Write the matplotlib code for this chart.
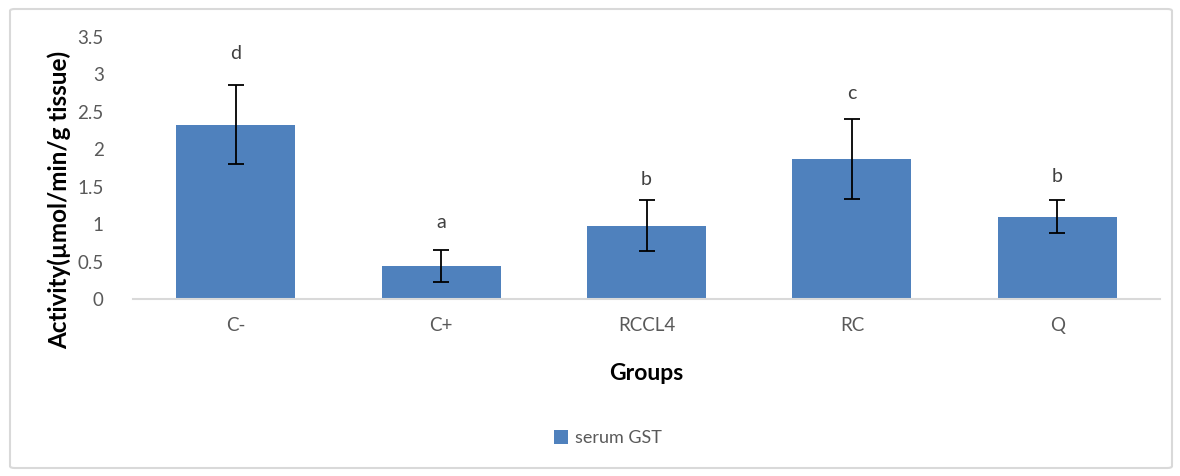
import matplotlib
matplotlib.use("Agg")
import matplotlib.pyplot as plt
from matplotlib.patches import FancyBboxPatch

plt.rcParams['font.family'] = ['Lato', 'DejaVu Sans']

groups = ['C-', 'C+', 'RCCL4', 'RC', 'Q']
gst = [2.33, 0.44, 0.98, 1.87, 1.10]
gst_err = [0.53, 0.21, 0.34, 0.53, 0.22]
letters = ['d', 'a', 'b', 'c', 'b']
letter_y = [3.28, 1.02, 1.60, 2.75, 1.63]

fig = plt.figure(figsize=(11.8, 4.76), dpi=100)
ax = fig.add_axes([133/1180, 1 - 299/476, 1027/1180, 262/476])

# outer chart border
fig.patches.append(FancyBboxPatch((10/1180, 8/476), 1162/1180, 459/476,
                                  boxstyle="round,pad=0,rounding_size=0.004",
                                  transform=fig.transFigure, fill=False,
                                  edgecolor='#d9d9d9', linewidth=1.5))

x = range(len(groups))
ax.bar(x, gst, width=0.58, color='#4f81bd', label='serum GST', zorder=2)
ax.errorbar(x, gst, yerr=gst_err, fmt='none', ecolor='black',
            elinewidth=1.3, capsize=6, capthick=1.3, zorder=3)
for i, (t, ty) in enumerate(zip(letters, letter_y)):
    ax.text(i, ty, t, ha='center', va='center', fontsize=14, color='#404040')

ax.set_xlim(-0.5, len(groups) - 0.5)
ax.set_ylim(0, 3.5)
ax.set_yticks([0, 0.5, 1, 1.5, 2, 2.5, 3, 3.5])
ax.set_yticklabels(['0', '0.5', '1', '1.5', '2', '2.5', '3', '3.5'])
ax.set_xticks(list(x))
ax.set_xticklabels(groups)
ax.tick_params(axis='both', length=0, labelsize=13.5, labelcolor='#595959')
ax.tick_params(axis='y', pad=21)
ax.tick_params(axis='x', pad=13)
for s in ['top', 'right', 'left']:
    ax.spines[s].set_visible(False)
ax.spines['bottom'].set_color('#d9d9d9')
ax.spines['bottom'].set_linewidth(1.5)

ax.set_ylabel('Activity(µmol/min/g tissue)', fontsize=17.5, fontweight='bold')
ax.yaxis.set_label_coords((71 - 133) / 1027, (299 - 200) / 262)
ax.set_xlabel('Groups', fontsize=16.5, fontweight='bold')
ax.xaxis.set_label_coords(0.5, -(363 - 299) / 262)

fig.legend(loc='center', bbox_to_anchor=(608/1180, 1 - 438/476), frameon=False,
           fontsize=13, handlelength=0.8, handleheight=0.8, handletextpad=0.4,
           labelcolor='#595959')

fig.savefig('out.png', dpi=100)
